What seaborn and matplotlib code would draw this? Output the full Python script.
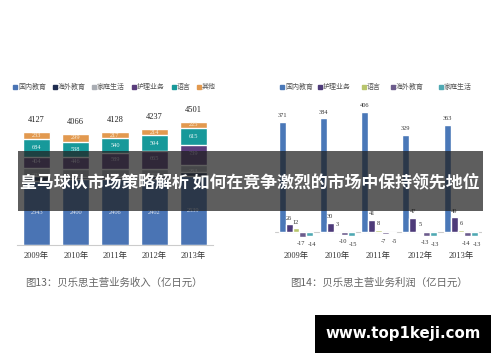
import numpy as np
import pandas as pd
import matplotlib
matplotlib.use("Agg")
import matplotlib.pyplot as plt
import seaborn as sns
from matplotlib.patches import Rectangle

# ---------------- data ----------------
years = ["2009年", "2010年", "2011年", "2012年", "2013年"]

rev_series = ["国内教育", "海外教育", "家庭生活", "护理业务", "语言", "其他"]
rev_domestic = [2343, 2400, 2406, 2402, 2539]
rev_overseas = [168, 77, 93, 109, 130]
rev_family = [295, 306, 283, 253, 253]
rev_care = [404, 446, 589, 665, 739]
rev_language = [684, 538, 540, 594, 615]
rev_other = [233, 299, 217, 214, 225]
rev_total = [4127, 4066, 4128, 4237, 4501]

prof_series = ["国内教育", "护理业务", "语言", "海外教育", "家庭生活"]
prof_domestic = [371, 384, 406, 329, 363]
prof_care = [26, 30, 41, 47, 49]
prof_language = [12, 3, 8, 5, 6]
prof_overseas = [-17, -10, -7, -13, -14]
prof_family = [-14, -15, -5, -13, -13]

caption_left = "图13：贝乐思主营业务收入（亿日元）"
caption_right = "图14：贝乐思主营业务利润（亿日元）"
banner_text = "皇马球队市场策略解析 如何在竞争激烈的市场中保持领先地位"
watermark = "www.top1keji.com"

# ---------------- style ----------------
sns.set_theme(style="white")
CJK = ["Noto Sans CJK SC", "DejaVu Sans"]
SERIF = ["Liberation Serif", "Noto Sans CJK SC"]
plt.rcParams["font.family"] = CJK

rev_colors = ["#4a74b4", "#1f2d50", "#a9adb3", "#5a3d7c", "#17999a", "#e2994f"]
prof_colors = ["#4a78b8", "#4e3b7a", "#b8c56c", "#6c5c8c", "#4fa9b3"]

W, H = 500, 362
fig = plt.figure(figsize=(W / 100, H / 100), dpi=100)
fig.patch.set_facecolor("white")


def fx(px):
    return px / W


def fy(py):
    return 1 - py / H


# ---------------- left: stacked revenue ----------------
axL = fig.add_axes([fx(17), fy(245), fx(196), (245 - 111) / H])
rev_vals = [rev_domestic, rev_overseas, rev_family, rev_care, rev_language, rev_other]
cum = np.cumsum(np.array(rev_vals), axis=0)
for i in reversed(range(len(rev_series))):
    sns.barplot(x=years, y=cum[i], color=rev_colors[i], saturation=1,
                width=0.69, errorbar=None, ax=axL)
axL.set_ylim(0, 4900)
axL.set_xlim(-0.5, 4.5)
label_colors = {0: "#dce4f0", 2: "#ffffff", 3: "#d8cfe3", 4: "#e8f6f6", 5: "#fbeed8"}
label_shift = {0: 0, 2: -2.2, 3: 1.0, 4: 0, 5: 0}
for i, col in label_colors.items():
    for j in range(len(years)):
        base = cum[i - 1][j] if i > 0 else 0
        mid = base + rev_vals[i][j] / 2
        axL.annotate(str(rev_vals[i][j]), (j, mid), xytext=(0, label_shift[i]),
                     textcoords="offset points", ha="center", va="center",
                     fontsize=4.6, color=col, family=SERIF)
for j, t in enumerate(rev_total):
    axL.annotate(str(t), (j, cum[-1][j]), xytext=(0, 8.4), textcoords="offset points",
                 ha="center", va="center", fontsize=6, color="#222222", family=SERIF)
for s in ["top", "right", "left"]:
    axL.spines[s].set_visible(False)
axL.spines["bottom"].set_color("#cccccc")
axL.spines["bottom"].set_linewidth(0.8)
axL.set_yticks([])
axL.set_ylabel("")
axL.set_xlabel("")
axL.tick_params(axis="x", length=0, pad=5, labelsize=6, labelcolor="#333333")
for lab in axL.get_xticklabels():
    lab.set_family(SERIF)

# ---------------- right: grouped profit ----------------
axR = fig.add_axes([fx(275.4), fy(245), fx(206.2), (245 - 104.7) / H])
prof_vals = [prof_domestic, prof_care, prof_language, prof_overseas, prof_family]
df = pd.DataFrame({
    "year": np.repeat([years], len(prof_series), axis=0).ravel(),
    "series": np.repeat(prof_series, len(years)),
    "value": np.array(prof_vals).ravel(),
})
sns.barplot(data=df, x="year", y="value", hue="series", hue_order=prof_series,
            palette=prof_colors, saturation=1, width=0.84, errorbar=None,
            legend=False, ax=axR)
axR.set_ylim(-43.9, 430)
axR.set_xlim(-0.5, 4.5)
axR.axhline(0, color="#cccccc", lw=0.8, zorder=0)
for k, (cont, vals) in enumerate(zip(axR.containers, prof_vals)):
    for bar, v in zip(cont.patches, vals):
        cx = bar.get_x() + bar.get_width() / 2
        if v >= 0:
            off = (0, 4.5)
        else:
            off = (-1.2 if k == 3 else 1.2, -5.0 - (1.0 if k == 4 else 0))
        axR.annotate(str(v), (cx, v), xytext=off, textcoords="offset points",
                     ha="center", va="center", fontsize=4.6, color="#333333", family=SERIF)
for s in ["top", "right", "left", "bottom"]:
    axR.spines[s].set_visible(False)
axR.set_yticks([])
axR.set_ylabel("")
axR.set_xlabel("")
axR.tick_params(axis="x", length=0, pad=5, labelsize=6, labelcolor="#333333")
for lab in axR.get_xticklabels():
    lab.set_family(SERIF)

# ---------------- legends (manual) ----------------
def legend_item(xpx, ypx, color, text):
    fig.patches.append(Rectangle((fx(xpx), fy(ypx + 2)), 4 / W, 4 / H,
                                 transform=fig.transFigure, color=color))
    fig.text(fx(xpx + 5), fy(ypx), text, fontsize=5.0, color="#555555",
             ha="left", va="center", family=CJK)

for xpx, c, t in zip([13, 53, 92, 132, 172, 197], rev_colors, rev_series):
    legend_item(xpx, 86.5, c, t)
for xpx, c, t in zip([280, 318, 362, 391, 439], prof_colors, prof_series):
    legend_item(xpx, 86.5, c, t)

# ---------------- captions ----------------
fig.text(fx(25), fy(283), caption_left, fontsize=7.5, color="#666666",
         ha="left", va="center", family=CJK)
fig.text(fx(290), fy(283), caption_right, fontsize=7.5, color="#666666",
         ha="left", va="center", family=CJK)

# ---------------- banner overlay ----------------
fig.add_artist(Rectangle((fx(18), fy(211)), 465 / W, 60 / H, transform=fig.transFigure,
                         facecolor="#202020", alpha=0.72, edgecolor="none", zorder=5))
fig.text(fx(250), fy(182), banner_text, fontsize=12.2, fontweight="bold", color="white",
         ha="center", va="center", family=CJK, zorder=6)

# ---------------- watermark ----------------
fig.add_artist(Rectangle((fx(315), fy(352.5)), 176 / W, 37.5 / H, transform=fig.transFigure,
                         facecolor="black", edgecolor="none", zorder=5))
fig.text(fx(403), fy(333.5), watermark, fontsize=10.8, fontweight="bold", color="white",
         ha="center", va="center", family=["DejaVu Sans"], zorder=6)

fig.savefig("out.png", dpi=100, facecolor="white")
